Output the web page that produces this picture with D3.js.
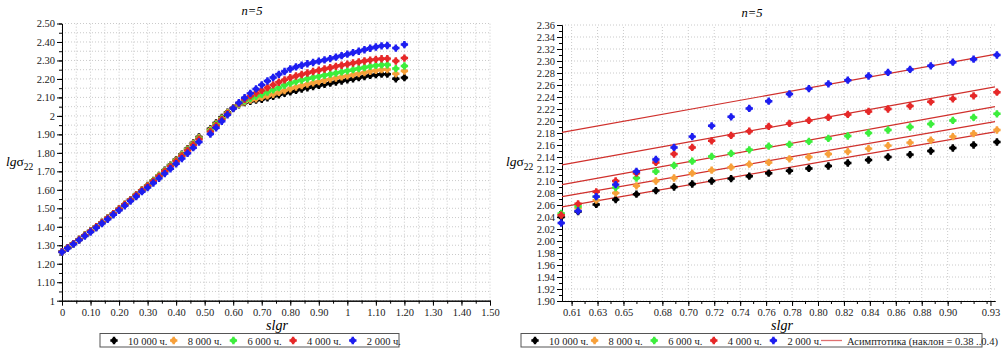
<!DOCTYPE html>
<html>
<head>
<meta charset="utf-8">
<script src="https://cdn.jsdelivr.net/npm/d3@7"></script>
<style>
body { margin: 0; background: #fff; }
svg text { font-family: "Times New Roman", "Liberation Serif", "DejaVu Serif", serif; }
</style>
</head>
<body>
<script>
const WIDTH = 1004;
const HEIGHT = 353;

// series, in legend order
const seriesNames = ["10 000 ч.", "8 000 ч.", "6 000 ч.", "4 000 ч.", "2 000 ч."];
const seriesColors = ["#000000", "#f7a03a", "#3cee3c", "#e62828", "#1e1ef0"];

// ---- left panel data ----
const leftX = [0, 0.02, 0.04, 0.06, 0.08, 0.10, 0.12, 0.14, 0.16, 0.18, 0.20, 0.22, 0.24, 0.26, 0.28,
    0.30, 0.32, 0.34, 0.36, 0.38, 0.40, 0.42, 0.44, 0.46, 0.48,
    0.52, 0.54, 0.56, 0.58, 0.60, 0.62, 0.64, 0.66, 0.68, 0.70,
    0.72, 0.74, 0.76, 0.78, 0.80, 0.82, 0.84, 0.86, 0.88, 0.90,
    0.92, 0.94, 0.96, 0.98, 1.00, 1.02, 1.04, 1.06, 1.08, 1.10,
    1.12, 1.14, 1.17, 1.20];

// the four upper curves coincide for small x, blue sits a touch lower
const leftCommon = [1.265, 1.287, 1.309, 1.331, 1.354, 1.377, 1.400, 1.423, 1.447, 1.471,
    1.496, 1.521, 1.546, 1.572, 1.598];
const leftBlueLow = [1.263, 1.284, 1.306, 1.328, 1.350, 1.372, 1.395, 1.418, 1.441, 1.465,
    1.489, 1.514, 1.539, 1.564, 1.590];

// from x = 0.30 on
const leftBlack = [1.624, 1.651, 1.678, 1.706, 1.734, 1.763, 1.793, 1.823, 1.854, 1.886,
    1.930, 1.962, 1.992, 2.020, 2.043, 2.060, 2.072, 2.079, 2.085, 2.090,
    2.098, 2.106, 2.114, 2.122, 2.130, 2.138, 2.145, 2.152, 2.159, 2.165,
    2.171, 2.177, 2.183, 2.189, 2.195, 2.201, 2.207, 2.213, 2.219, 2.223,
    2.226, 2.226, 2.201, 2.207];
const leftOrange = [1.623, 1.650, 1.677, 1.704, 1.732, 1.761, 1.790, 1.820, 1.851, 1.882,
    1.925, 1.957, 1.988, 2.017, 2.042, 2.062, 2.076, 2.085, 2.093, 2.100,
    2.108, 2.117, 2.127, 2.137, 2.147, 2.156, 2.164, 2.172, 2.179, 2.186,
    2.193, 2.199, 2.205, 2.211, 2.217, 2.223, 2.229, 2.235, 2.241, 2.246,
    2.250, 2.251, 2.228, 2.243];
const leftGreen = [1.622, 1.649, 1.675, 1.702, 1.730, 1.758, 1.787, 1.817, 1.847, 1.878,
    1.920, 1.952, 1.984, 2.014, 2.042, 2.065, 2.082, 2.095, 2.106, 2.117,
    2.129, 2.141, 2.153, 2.166, 2.177, 2.186, 2.194, 2.201, 2.208, 2.214,
    2.220, 2.226, 2.232, 2.238, 2.244, 2.250, 2.256, 2.262, 2.268, 2.273,
    2.276, 2.277, 2.256, 2.270];
const leftRed = [1.621, 1.647, 1.673, 1.700, 1.727, 1.755, 1.784, 1.813, 1.843, 1.874,
    1.915, 1.947, 1.980, 2.012, 2.042, 2.068, 2.090, 2.108, 2.124, 2.138,
    2.153, 2.168, 2.182, 2.195, 2.207, 2.216, 2.224, 2.232, 2.240, 2.247,
    2.254, 2.261, 2.268, 2.274, 2.280, 2.286, 2.292, 2.297, 2.302, 2.306,
    2.309, 2.310, 2.297, 2.313];
const leftBlue = [1.612, 1.637, 1.662, 1.688, 1.714, 1.741, 1.769, 1.798, 1.828, 1.859,
    1.902, 1.936, 1.971, 2.006, 2.040, 2.071, 2.098, 2.122, 2.146, 2.168,
    2.189, 2.208, 2.225, 2.240, 2.254, 2.265, 2.274, 2.282, 2.289, 2.296,
    2.303, 2.310, 2.318, 2.326, 2.334, 2.342, 2.350, 2.358, 2.366, 2.373,
    2.379, 2.381, 2.367, 2.386];

const leftXTicks = [0, 0.1, 0.2, 0.3, 0.4, 0.5, 0.6, 0.7, 0.8, 0.9, 1, 1.1, 1.2, 1.3, 1.4, 1.5];
const leftYTicks = [1, 1.1, 1.2, 1.3, 1.4, 1.5, 1.6, 1.7, 1.8, 1.9, 2, 2.1, 2.2, 2.3, 2.4, 2.5];

// ---- right panel data ----
const rightX = [0.602, 0.615, 0.629, 0.644, 0.660, 0.675, 0.689, 0.703, 0.718, 0.733, 0.747, 0.762,
    0.778, 0.793, 0.808, 0.823, 0.839, 0.854, 0.871, 0.887, 0.904, 0.920, 0.938];
const rightBlack = [2.040, 2.049, 2.061, 2.069, 2.078, 2.084, 2.090, 2.095, 2.100, 2.104, 2.108, 2.113,
    2.117, 2.121, 2.125, 2.130, 2.135, 2.140, 2.144, 2.150, 2.155, 2.160, 2.165];
const rightOrange = [2.044, 2.055, 2.068, 2.080, 2.092, 2.100, 2.105, 2.113, 2.118, 2.123, 2.128, 2.131,
    2.137, 2.140, 2.145, 2.149, 2.154, 2.159, 2.164, 2.168, 2.174, 2.179, 2.185];
const rightGreen = [2.046, 2.058, 2.074, 2.089, 2.105, 2.116, 2.126, 2.133, 2.141, 2.146, 2.152, 2.158,
    2.161, 2.166, 2.171, 2.175, 2.180, 2.185, 2.190, 2.195, 2.201, 2.206, 2.212];
const rightRed = [2.043, 2.062, 2.082, 2.100, 2.113, 2.131, 2.145, 2.156, 2.167, 2.176, 2.183, 2.191,
    2.196, 2.201, 2.206, 2.211, 2.216, 2.220, 2.225, 2.232, 2.237, 2.242, 2.248];
const rightBlue = [2.030, 2.050, 2.074, 2.094, 2.116, 2.136, 2.156, 2.174, 2.192, 2.207, 2.221, 2.233,
    2.245, 2.254, 2.262, 2.268, 2.275, 2.281, 2.286, 2.292, 2.298, 2.303, 2.310];

// asymptotes: value at left and right end of the axis
const asymX = [0.6026, 0.9365];
const asymBlack = [2.057, 2.182];
const asymOrange = [2.074, 2.199];
const asymGreen = [2.094, 2.224];
const asymRed = [2.127, 2.257];
const asymBlue = [2.181, 2.311];
const asymLabel = "Асимптотика (наклон = 0.38 ..0.4)";

const rightXTicks = [0.61, 0.63, 0.65, 0.68, 0.70, 0.72, 0.74, 0.76, 0.78, 0.80, 0.82, 0.84, 0.86, 0.88, 0.90, 0.933];
const rightYTicks = [1.90, 1.92, 1.94, 1.96, 1.98, 2.00, 2.02, 2.04, 2.06, 2.08, 2.10, 2.12, 2.14, 2.16,
    2.18, 2.20, 2.22, 2.24, 2.26, 2.28, 2.30, 2.32, 2.34, 2.36];

const FONT = "'Times New Roman', 'Liberation Serif', 'DejaVu Serif', serif";

var svg = d3.select("body").append("svg")
    .attr("width", WIDTH)
    .attr("height", HEIGHT)
    .style("font-family", FONT);

svg.append("rect").attr("width", WIDTH).attr("height", HEIGHT).attr("fill", "#fff");

// blobby plus: a cross with a disc under it
var crossPath = d3.symbol().type(d3.symbolCross).size(30)();
var discPath = d3.symbol().type(d3.symbolCircle).size(22)();

function addMarker(sel, color) {
    sel.append("path").attr("d", discPath).attr("fill", color);
    sel.append("path").attr("d", crossPath).attr("fill", color);
}

function shortNum(d) {
    // whole numbers without decimals
    return Number.isInteger(d) ? String(d) : d.toFixed(2);
}

function drawPanel(p) {
    var g = svg.append("g");
    var x0 = p.x.range()[0], x1 = p.x.range()[1];
    var y0 = p.y.range()[0], y1 = p.y.range()[1];

    // dotted grid
    g.append("g").selectAll("line").data(p.gridX).join("line")
        .attr("x1", d => p.x(d)).attr("x2", d => p.x(d))
        .attr("y1", y0).attr("y2", y1)
        .attr("stroke", "#bdbdbd").attr("stroke-width", 0.8).attr("stroke-dasharray", "1,2");
    g.append("g").selectAll("line").data(p.gridY).join("line")
        .attr("y1", d => p.y(d)).attr("y2", d => p.y(d))
        .attr("x1", x0).attr("x2", x1)
        .attr("stroke", "#bdbdbd").attr("stroke-width", 0.8).attr("stroke-dasharray", "1,2");

    // minor ticks
    g.append("g").attr("transform", "translate(0," + y0 + ")")
        .call(d3.axisBottom(p.x).tickValues(p.minorX).tickSize(3).tickSizeOuter(0).tickFormat(""));
    g.append("g").attr("transform", "translate(" + x0 + ",0)")
        .call(d3.axisLeft(p.y).tickValues(p.minorY).tickSize(3).tickSizeOuter(0).tickFormat(""));

    // labelled ticks
    var ax = g.append("g").attr("transform", "translate(0," + y0 + ")")
        .call(d3.axisBottom(p.x).tickValues(p.xTicks).tickSize(5).tickSizeOuter(0)
            .tickPadding(3).tickFormat(p.xFormat));
    var ay = g.append("g").attr("transform", "translate(" + x0 + ",0)")
        .call(d3.axisLeft(p.y).tickValues(p.yTicks).tickSize(5).tickSizeOuter(0)
            .tickPadding(2).tickFormat(p.yFormat));
    [ax, ay].forEach(function(a) {
        a.attr("font-family", FONT).attr("font-size", 10.5);
        a.selectAll("text").attr("fill", "#222");
    });

    // asymptotes
    if (p.asym) {
        g.append("g").selectAll("line").data(p.asym).join("line")
            .attr("x1", p.x(asymX[0])).attr("x2", p.x(asymX[1]))
            .attr("y1", d => p.y(d[0])).attr("y2", d => p.y(d[1]))
            .attr("stroke", "#d0302c").attr("stroke-width", 1.2);
    }

    // points
    p.series.forEach(function(vals, i) {
        var pts = g.append("g").selectAll("g").data(vals).join("g")
            .attr("transform", (d, j) => "translate(" + p.x(p.xs[j]) + "," + p.y(d) + ")");
        addMarker(pts, seriesColors[i]);
    });

    // title and axis names
    g.append("text").attr("x", p.titleX).attr("y", p.titleY)
        .attr("text-anchor", "middle").attr("font-size", 12.5).attr("font-style", "italic")
        .text("n=5");

    var yl = g.append("text").attr("x", p.ylabX).attr("y", 166).attr("font-size", 13.5);
    yl.append("tspan").attr("font-style", "italic").text("lg");
    yl.append("tspan").text("σ");
    yl.append("tspan").attr("font-size", 9.5).attr("dy", 4).text("22");

    g.append("text").attr("x", p.xlabX).attr("y", 330)
        .attr("text-anchor", "middle").attr("font-size", 14).attr("font-style", "italic")
        .text("slgr");

    // legend
    var lg = g.append("g");
    lg.append("rect").attr("x", p.legX).attr("y", 333.5).attr("width", p.legW).attr("height", 13.5)
        .attr("fill", "#fff").attr("stroke", "#555").attr("stroke-width", 1);
    seriesNames.forEach(function(name, i) {
        var sx = p.legX + 14 + i * p.legStep;
        addMarker(lg.append("g").attr("transform", "translate(" + sx + ",340.5)"), seriesColors[i]);
        lg.append("text").attr("x", sx + 14).attr("y", 344.5)
            .attr("font-size", 10.5).attr("fill", "#222").text(name);
    });
    if (p.asym) {
        var lx = p.legX + 14 + 5 * p.legStep - 12;
        lg.append("line").attr("x1", lx).attr("x2", lx + 21)
            .attr("y1", 340.5).attr("y2", 340.5)
            .attr("stroke", "#e07070").attr("stroke-width", 1.3);
        lg.append("text").attr("x", lx + 26).attr("y", 344.5)
            .attr("font-size", 10.5).attr("fill", "#222").text(asymLabel);
    }
}

var leftSeries = [leftBlack, leftOrange, leftGreen, leftRed]
    .map(s => leftCommon.concat(s));
leftSeries.push(leftBlueLow.concat(leftBlue));

drawPanel({
    x: d3.scaleLinear().domain([0, 1.5]).range([62, 490]),
    y: d3.scaleLinear().domain([1, 2.5]).range([300.7, 23.5]),
    xs: leftX,
    series: leftSeries,
    xTicks: leftXTicks,
    yTicks: leftYTicks,
    minorX: d3.range(0, 31).map(d => d * 0.05),
    minorY: d3.range(0, 31).map(d => 1 + d * 0.05),
    gridX: d3.range(0, 31).map(d => d * 0.05),
    gridY: d3.range(0, 31).map(d => 1 + d * 0.05),
    xFormat: d => shortNum(d),
    yFormat: d => shortNum(d),
    titleX: 252, titleY: 15,
    ylabX: 6, xlabX: 277,
    legX: 100, legW: 299, legStep: 59.7
});

drawPanel({
    x: d3.scaleLinear().domain([0.6026, 0.9365]).range([562, 995]),
    y: d3.scaleLinear().domain([1.90, 2.36]).range([301, 25]),
    xs: rightX,
    series: [rightBlack, rightOrange, rightGreen, rightRed, rightBlue],
    asym: [asymBlack, asymOrange, asymGreen, asymRed, asymBlue],
    xTicks: rightXTicks,
    yTicks: rightYTicks,
    minorX: d3.range(61, 94).map(d => d / 100),
    minorY: d3.range(190, 237).map(d => d / 100),
    gridX: rightXTicks,
    gridY: rightYTicks,
    xFormat: d => d.toFixed(2),
    yFormat: d => d.toFixed(2),
    titleX: 752, titleY: 17,
    ylabX: 506, xlabX: 782,
    legX: 521, legW: 461, legStep: 59.6
});
</script>
</body>
</html>
